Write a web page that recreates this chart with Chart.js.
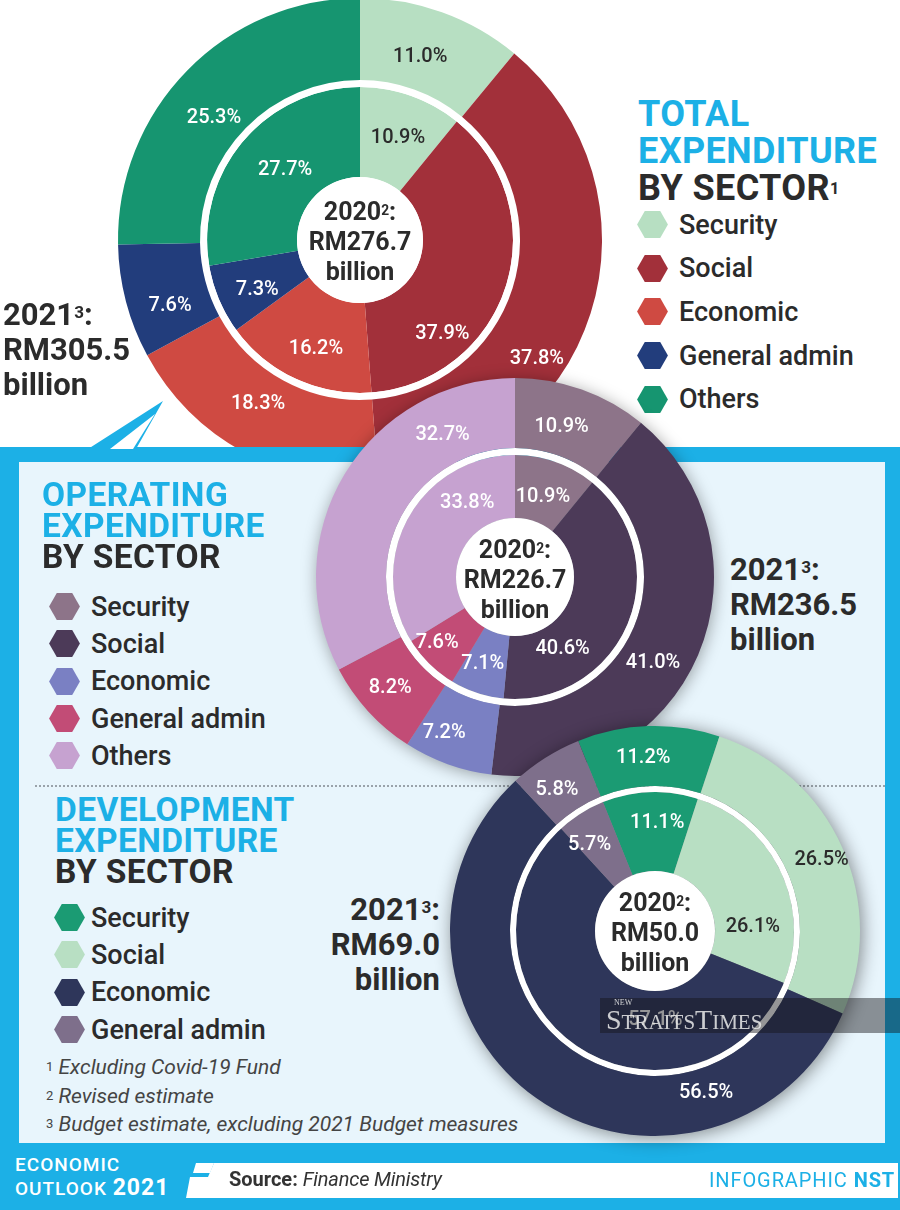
<!DOCTYPE html>
<html>
<head>
<meta charset="utf-8">
<script src="https://cdn.jsdelivr.net/npm/chart.js@4/dist/chart.umd.min.js"></script>
<style>
  html,body{margin:0;padding:0;}
  body{width:900px;height:1210px;position:relative;overflow:hidden;background:#fff;font-family:Roboto,"DejaVu Sans",sans-serif;color:#2b2b2b;}
  .abs{position:absolute;}
  canvas{position:absolute;}
  .title{font-weight:700;font-size:36px;line-height:37px;letter-spacing:0.4px;}
  .title .c{color:#1cb0e6;}
  .title .d{color:#2b2b2b;}
  .legend{position:absolute;}
  .legend .it{display:flex;align-items:center;font-weight:500;font-size:27px;color:#2b2b2b;}
  .legend svg{flex:none;}
  .big{font-weight:700;font-size:31px;line-height:35px;color:#2b2b2b;}
  .ctr{font-weight:700;font-size:25px;line-height:30px;text-align:center;color:#2b2b2b;width:140px;}
  sup{font-size:55%;vertical-align:top;position:relative;top:-2px;}
  .foot{font-style:italic;font-size:21px;color:#444;line-height:28.5px;}
  .foot sup{font-style:normal;font-size:62%;top:0px;}
</style>
</head>
<body>
<script>
// ---------- DATA ----------
const sectorsTotal = ['Security','Social','Economic','General admin','Others'];
const total2021 = [11.0, 37.8, 18.3, 7.6, 25.3];
const total2020 = [10.9, 37.9, 16.2, 7.3, 27.7];

const sectorsOper = ['Security','Social','Economic','General admin','Others'];
const oper2021 = [10.9, 41.0, 7.2, 8.2, 32.7];
const oper2020 = [10.9, 40.6, 7.1, 7.6, 33.8];

const sectorsDev = ['Security','Social','Economic','General admin'];
const dev2021 = [11.2, 26.5, 56.5, 5.8];
const dev2020 = [11.1, 26.1, 57.1, 5.7];

const amountLabels = ['Total','Operating','Development'];
const amounts2020 = [276.7, 226.7, 50.0];
const amounts2021 = [305.5, 236.5, 69.0];
</script>

<!-- chart 1 -->
<canvas id="c1" width="520" height="520" style="left:100px;top:-20px;z-index:1"></canvas>

<!-- total title + legend -->
<div class="abs title" style="left:638px;top:96px;z-index:2">
  <div class="c">TOTAL</div><div class="c">EXPENDITURE</div><div class="d">BY SECTOR<sup style="font-size:45%;top:0">1</sup></div>
</div>
<div id="lg1" class="legend" style="left:637px;top:203px;z-index:2"></div>

<div id="big1" class="abs big" style="left:3px;top:297px;z-index:2"></div>

<!-- panel -->
<div class="abs" style="left:0;top:447px;width:900px;height:763px;background:#1cb0e6;z-index:3"></div>
<div class="abs" style="left:19px;top:462px;width:866px;height:681px;background:#e8f5fc;z-index:3"></div>
<svg class="abs" style="left:0;top:380px;z-index:3" width="300" height="90">
  <polygon points="88,69 163,21 136,69" fill="#1cb0e6"/>
  <polygon points="110,69 155,34 133,69" fill="#fff"/>
</svg>
<div class="abs" style="left:35px;top:785px;width:850px;border-top:2px dotted #9aa3aa;z-index:3"></div>

<!-- operating title + legend -->
<div class="abs title" style="left:42px;top:479px;z-index:4;font-size:33.5px;line-height:31px;">
  <div class="c">OPERATING</div><div class="c">EXPENDITURE</div><div class="d">BY SECTOR</div>
</div>
<div id="lg2" class="legend" style="left:49px;top:588px;z-index:4"></div>

<!-- development title + legend -->
<div class="abs title" style="left:55px;top:794px;z-index:4;font-size:33.5px;line-height:31px;">
  <div class="c">DEVELOPMENT</div><div class="c">EXPENDITURE</div><div class="d">BY SECTOR</div>
</div>
<div id="lg3" class="legend" style="left:54px;top:899px;z-index:4"></div>

<div class="abs foot" style="left:46px;top:1053px;z-index:4">
  <div><sup>1</sup> Excluding Covid-19 Fund</div>
  <div><sup>2</sup> Revised estimate</div>
  <div><sup>3</sup> Budget estimate, excluding 2021 Budget measures</div>
</div>

<div id="big2" class="abs big" style="left:730px;top:552px;z-index:4"></div>
<div id="big3" class="abs big" style="left:300px;top:892px;width:140px;text-align:right;z-index:4"></div>

<!-- chart 2 & 3 -->
<canvas id="c2" width="440" height="440" style="left:295px;top:357px;z-index:5;filter:drop-shadow(1px 2px 8px rgba(0,0,0,0.35))"></canvas>
<canvas id="c3" width="450" height="450" style="left:430px;top:706px;z-index:6;filter:drop-shadow(2px 2px 9px rgba(0,0,0,0.45))"></canvas>

<div id="ctr1" class="abs ctr" style="left:290px;top:197px;z-index:2"></div>
<div id="ctr2" class="abs ctr" style="left:445px;top:535px;z-index:7"></div>
<div id="ctr3" class="abs ctr" style="left:585px;top:888px;z-index:7"></div>

<!-- watermark band -->
<div class="abs" style="left:600px;top:998px;width:300px;height:35px;background:rgba(20,20,25,0.45);z-index:8"></div>
<div class="abs" style="left:606px;top:999px;z-index:9;font-family:'Liberation Serif','DejaVu Serif',serif;color:rgba(235,235,235,0.85);">
  <div style="font-size:8px;line-height:8px;margin-left:8px">NEW</div>
  <div style="font-size:28px;line-height:25px;letter-spacing:0px">S<span style="font-size:21px">TRAITS</span>T<span style="font-size:21px">IMES</span></div>
</div>

<!-- footer -->
<div class="abs" style="left:15px;top:1153px;z-index:9;color:#fff;font-weight:500;font-size:19px;line-height:23px;letter-spacing:1px">
  <div>ECONOMIC</div><div>OUTLOOK <b style="font-size:23px;font-weight:700">2021</b></div>
</div>
<svg class="abs" style="left:0;top:1160px;z-index:9" width="900" height="42">
  <polygon points="196,3 214,3 210,13 193,13" fill="#fff"/>
  <polygon points="214,3 898,3 898,38 186,38 190,17 208,17" fill="#fff"/>
</svg>
<div class="abs" style="left:229px;top:1167px;z-index:10;font-size:20px;color:#333;"><b>Source:</b> <span style="font-style:italic;letter-spacing:-0.2px">Finance Ministry</span></div>
<div class="abs" style="left:709px;top:1168px;z-index:10;font-size:20px;color:#1cb0e6;letter-spacing:0.9px">INFOGRAPHIC <b>NST</b></div>

<script>
const hex = c => `<svg width="31" height="27" viewBox="0 0 32 28"><polygon points="8,0 24,0 32,14 24,28 8,28 0,14" fill="${c}"/></svg>`;

const colTotal = ['#b7dfc2','#a2303a','#cf4a42','#223d7c','#169570'];
const colOper  = ['#8d7489','#4c3a58','#7a80c3','#c24c76','#c6a2d0'];
const colDev   = ['#1b9b73','#b8dfc3','#2e365a','#7e6f8b'];

function legend(id, names, cols, gap, space){
  document.getElementById(id).innerHTML = names.map((n, i) =>
    `<div class="it" style="height:${gap}px">${hex(cols[i])}<span style="margin-left:${space}px">${n}</span></div>`).join('');
}
legend('lg1', sectorsTotal, colTotal, 43.6, 11);
legend('lg2', sectorsOper, colOper, 37.3, 11);
legend('lg3', sectorsDev, colDev, 37.3, 6);

function big(id, v){ document.getElementById(id).innerHTML = `2021<sup>3</sup>:<br>RM${v.toFixed(1)}<br>billion`; }
function ctr(id, v){ document.getElementById(id).innerHTML = `2020<sup>2</sup>:<br>RM${v.toFixed(1)}<br>billion`; }
big('big1', amounts2021[0]); big('big2', amounts2021[1]); big('big3', amounts2021[2]);
ctr('ctr1', amounts2020[0]); ctr('ctr2', amounts2020[1]); ctr('ctr3', amounts2020[2]);

// labels placed inside each arc: [fraction along arc, fraction across ring]
const pctPlugin = {
  id: 'pctLabels',
  afterDatasetsDraw(chart){
    const ctx = chart.ctx;
    const n = chart.data.datasets.length;
    const inner = chart.getDatasetMeta(n-1).data[0];
    ctx.save();
    ctx.beginPath();
    ctx.arc(inner.x, inner.y, inner.innerRadius, 0, Math.PI*2);
    ctx.fillStyle = '#ffffff';
    ctx.fill();
    chart.data.datasets.forEach((ds, i) => {
      if (!ds.labelColors) return;
      const meta = chart.getDatasetMeta(i);
      meta.data.forEach((arc, j) => {
        const pl = (ds.labelPlace && ds.labelPlace[j]) || [0.5, 0.5];
        const a = arc.startAngle + (arc.endAngle - arc.startAngle) * pl[0];
        const r = arc.innerRadius + (arc.outerRadius - arc.innerRadius) * pl[1];
        const x = arc.x + Math.cos(a) * r;
        const y = arc.y + Math.sin(a) * r;
        ctx.font = '500 20px Roboto';
        ctx.textAlign = 'center';
        ctx.textBaseline = 'middle';
        ctx.fillStyle = ds.labelColors[j];
        ctx.fillText(ds.data[j].toFixed(1) + '%', x, y);
      });
    });
    ctx.restore();
  }
};

function donut(id, labels, d2021, d2020, cols, labelCols, geo, placeOuter, placeInner){
  const [R, outerW, gapW, innerW, cut, rot] = geo;
  return new Chart(document.getElementById(id), {
    type: 'doughnut',
    data: {
      labels: labels,
      datasets: [
        {label:'2021', data: d2021, backgroundColor: cols, borderWidth: 0, weight: outerW, labelColors: labelCols, labelPlace: placeOuter},
        {label:'gap', data: [1], backgroundColor: ['#ffffff'], borderWidth: 0, weight: gapW},
        {label:'2020', data: d2020, backgroundColor: cols, borderWidth: 0, weight: innerW, labelColors: labelCols, labelPlace: placeInner}
      ]
    },
    options: {
      responsive: false,
      animation: false,
      events: [],
      radius: R,
      cutout: (cut / R * 100) + '%',
      rotation: rot,
      layout: {padding: 0},
      plugins: {legend: {display: false}, tooltip: {enabled: false}}
    },
    plugins: [pctPlugin]
  });
}

const dk = '#2b2b2b', wh = '#ffffff';
// geometry: [outer radius, outer ring weight, gap weight, inner ring weight, centre radius, rotation]
donut('c1', sectorsTotal, total2021, total2020, colTotal, [dk, wh, wh, wh, wh], [242, 82, 7, 90, 63, 0],
  [[0.46,0.4],[0.62,0.65],[0.55,0.4],[0.34,0.5],[0.45,0.37]],
  [[0.52,0.51],[0.73,0.69],[0.45,0.61],[0.38,0.57],[0.53,0.44]]);
donut('c2', sectorsOper, oper2021, oper2020, colOper, [wh, wh, wh, wh, wh], [199, 70, 7, 63, 59, 0],
  [[0.44,0.4],[0.56,0.48],[0.68,0.6],[0.53,0.54],[0.77,0.43]],
  [[0.49,0.41],[0.735,0.44],[0.58,0.54],[0.69,0.68],[0.73,0.46]]);
donut('c3', sectorsDev, dev2021, dev2020, colDev, [wh, dk, wh, wh], [205, 60, 6, 79, 60, -22],
  [[0.45,0.48],[0.51,0.6],[0.24,0.42],[0.39,0.45]],
  [[0.58,0.61],[0.74,0.48],[0.33,0.37],[0.26,0.61]]);
</script>
</body>
</html>
